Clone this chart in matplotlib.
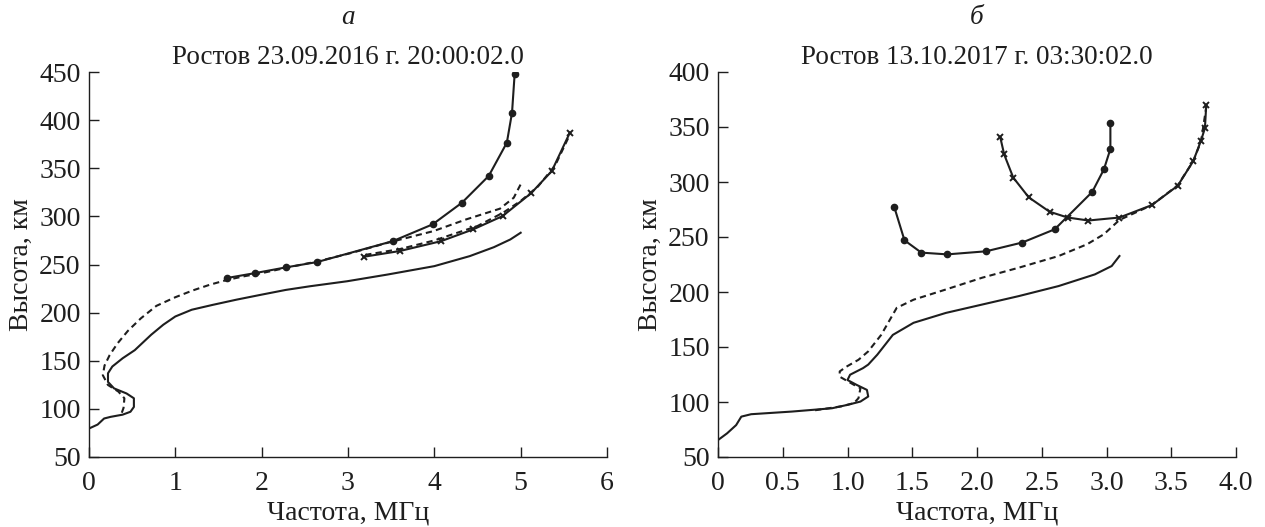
import matplotlib
matplotlib.use('Agg')
import matplotlib.pyplot as plt

plt.rcParams['font.family'] = ['Liberation Serif', 'DejaVu Serif']

# ---- панель а: Ростов 23.09.2016 ----
a_true_f = [0, 0.10, 0.175, 0.25, 0.39, 0.48, 0.52, 0.52, 0.435, 0.29, 0.22, 0.22, 0.27, 0.39,
            0.53, 0.72, 0.86, 1.0, 1.19, 1.43, 1.71, 2.0, 2.28, 2.56, 2.99, 3.46, 4.0, 4.41,
            4.69, 4.88, 5.0]
a_true_h = [79.6, 83.7, 90, 91.7, 94, 97, 102, 111, 116, 121.3, 128, 137, 144, 152.6,
            161, 177, 187.4, 196, 203, 208, 213.5, 218.7, 223.6, 227.4, 232.6, 239.6, 248.3, 258.7,
            268, 276, 283]

a_mod_o_f = [0.38, 0.40, 0.41, 0.34, 0.22, 0.16, 0.18, 0.24, 0.33, 0.45, 0.6, 0.78, 1.0,
             1.2, 1.4, 1.6, 1.81, 2.0, 2.28, 2.66, 3.04, 3.46, 3.99, 4.37, 4.76, 4.92, 5.0]
a_mod_o_h = [96, 101, 111, 118, 124.8, 135, 145, 156, 168, 181, 194, 207, 216,
             223, 229, 234, 238, 241, 246.5, 253.5, 262, 272.6, 284.7, 296.9, 308, 319.4, 333.3]

a_obs_o_f = [1.6, 1.92, 2.28, 2.64, 3.52, 3.98, 4.32, 4.63, 4.84, 4.90, 4.93]
a_obs_o_h = [236, 241, 247, 252.5, 274.3, 291.7, 314.2, 342, 376.6, 407.8, 447.6]

a_obs_x_f = [3.18, 3.6, 4.08, 4.45, 4.79, 5.12, 5.36, 5.57]
a_obs_x_h = [258, 264, 274.3, 286.5, 300.3, 324, 347, 387]

a_mod_x_f = [3.2, 3.6, 4.0, 4.5, 4.8, 5.0, 5.2, 5.4, 5.57]
a_mod_x_h = [260, 266, 275, 290, 304, 316, 331, 353, 385]

# ---- панель б: Ростов 13.10.2017 ----
b_true_f = [0, 0.07, 0.14, 0.18, 0.256, 0.57, 0.88, 1.0, 1.1, 1.16, 1.15, 1.07, 1.0, 1.02,
            1.12, 1.16, 1.23, 1.35, 1.51, 1.76, 2.04, 2.32, 2.63, 2.91, 3.04, 3.10]
b_true_h = [65.4, 71.5, 79, 86.7, 88.9, 91.3, 94.3, 97.4, 100.4, 105, 111, 115.6, 120, 124.8,
            130.8, 134, 143, 161, 172, 181, 188.6, 196.2, 205.4, 216, 223.6, 232.7]

b_mod_f = [0.75, 0.95, 1.05, 1.085, 1.1, 1.05, 0.94, 0.94, 0.99, 1.085, 1.16, 1.26, 1.38, 1.51,
           1.76, 2.04, 2.32, 2.63, 2.85, 2.98, 3.10, 3.35, 3.55, 3.67, 3.73, 3.77]
b_mod_h = [92.5, 96, 99, 103.5, 112.6, 115.6, 123, 127.8, 132, 138.4, 146, 161, 185.6, 193,
           202.3, 213, 222, 232.7, 243.4, 252.5, 265.5, 279, 297, 319, 337, 368]

b_obs_o_f = [1.36, 1.44, 1.57, 1.77, 2.07, 2.35, 2.60, 2.89, 2.98, 3.03, 3.03]
b_obs_o_h = [277.7, 247, 235.8, 234.2, 237, 245, 257, 291, 311.5, 330, 354]

b_obs_x_f = [2.18, 2.21, 2.28, 2.40, 2.56, 2.70, 2.86, 3.10, 3.35, 3.55, 3.67, 3.73, 3.76, 3.77]
b_obs_x_h = [340.5, 325, 304, 286, 273, 267.7, 265, 267.7, 279, 296.6, 319, 337.7, 349, 369.6]

ink = '#1e1e1e'
fig = plt.figure(figsize=(12.65, 5.27), dpi=100)
ax1 = fig.add_axes([89 / 1265, 70 / 527, 518 / 1265, 385 / 527])
ax2 = fig.add_axes([718 / 1265, 70 / 527, 518 / 1265, 385 / 527])

ax1.plot(a_true_f, a_true_h, '-', color=ink, lw=1.5)
ax1.plot(a_mod_o_f, a_mod_o_h, '--', color=ink, lw=1.5, dashes=(3, 2))
ax1.plot(a_mod_x_f, a_mod_x_h, '--', color=ink, lw=1.5, dashes=(3, 2))
ax1.plot(a_obs_o_f, a_obs_o_h, '-', color=ink, lw=1.5, marker='o', ms=4.5)
ax1.plot(a_obs_x_f, a_obs_x_h, '-', color=ink, lw=1.5, marker='x', ms=5, mew=1.4)
ax1.set_xlim(0, 6)
ax1.set_ylim(50, 450)
ax1.set_xticks(range(0, 7))
ax1.set_yticks(range(50, 451, 50))

ax2.plot(b_true_f, b_true_h, '-', color=ink, lw=1.5)
ax2.plot(b_mod_f, b_mod_h, '--', color=ink, lw=1.5, dashes=(3, 2))
ax2.plot(b_obs_o_f, b_obs_o_h, '-', color=ink, lw=1.5, marker='o', ms=4.5)
ax2.plot(b_obs_x_f, b_obs_x_h, '-', color=ink, lw=1.5, marker='x', ms=5, mew=1.4)
ax2.set_xlim(0, 4)
ax2.set_ylim(50, 400)
ax2.set_xticks([0, 0.5, 1, 1.5, 2, 2.5, 3, 3.5, 4])
ax2.set_xticklabels(['0', '0.5', '1.0', '1.5', '2.0', '2.5', '3.0', '3.5', '4.0'])
ax2.set_yticks(range(50, 401, 50))

fs = 20
for ax, letter, title in [(ax1, 'а', 'Ростов 23.09.2016 г. 20:00:02.0'),
                          (ax2, 'б', 'Ростов 13.10.2017 г. 03:30:02.0')]:
    for s in ['top', 'right']:
        ax.spines[s].set_visible(False)
    for s in ['left', 'bottom']:
        ax.spines[s].set_color(ink)
        ax.spines[s].set_linewidth(1.0)
    ax.tick_params(direction='in', length=7, width=1, colors=ink, labelsize=fs)
    ax.tick_params(axis='x', pad=10)
    ax.tick_params(axis='y', pad=6)
    ax.set_xlabel('Частота, МГц', fontsize=fs, color=ink, labelpad=3)
    ax.set_ylabel('Высота, км', fontsize=fs, color=ink, labelpad=4)
    ax.set_title(title, fontsize=19.5, color=ink, pad=6)
    pos = ax.get_position()
    fig.text((pos.x0 + pos.x1) / 2, 1 - 17 / 527, letter, ha='center', va='center',
             fontsize=19.5, style='italic', color=ink)

fig.savefig('out.png', dpi=100)
